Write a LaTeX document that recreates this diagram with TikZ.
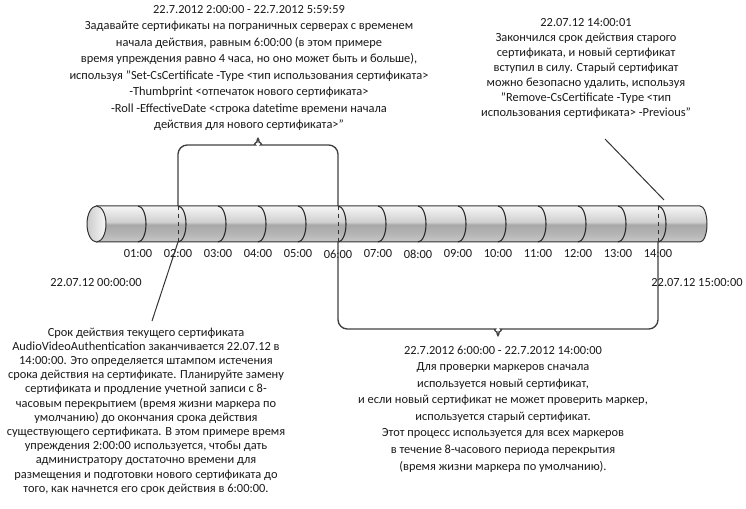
\documentclass[tikz,border=0pt]{standalone}
\usepackage{fontspec}
\setmainfont{Carlito}
\definecolor{cyla}{HTML}{F6F6F6}
\definecolor{cylb}{HTML}{D0D0D0}
\definecolor{cylc}{HTML}{A8A8A8}
\definecolor{cyld}{HTML}{B4B4B4}
\definecolor{cyle}{HTML}{C8C8C8}
\pgfdeclareverticalshading{cylshade}{100bp}{color(0bp)=(cyle); color(25bp)=(cyle); color(37bp)=(cyld); color(49bp)=(cylc); color(53bp)=(cylb); color(75bp)=(cyla); color(100bp)=(cyla)}
\begin{document}
\begin{tikzpicture}
  [x=0.75pt,y=-0.75pt,line width=0.75pt,
   every node/.style={inner sep=0pt,text=black!90},
   note/.style={align=center,font=\fontsize{9.3}{12.4}\selectfont},
   hour/.style={font=\fontsize{9.3}{11}\selectfont},
   cut/.style={draw=black!85,line width=0.8pt},
   brace/.style={draw=black!75,line width=1pt,rounded corners=7pt}]
  \useasboundingbox (0,0) rectangle (746,509);
  \shade[shading=cylshade,draw=black!80] (96.5,206) -- (700,206)
     arc[start angle=-90,end angle=90,x radius=7,y radius=18] -- (96.5,242) -- cycle;
  \shade[left color=black!20,right color=black!3,draw=black!80] (96.5,224) ellipse [x radius=9.5,y radius=18];
  \foreach \k in {1,...,14}{
    \pgfmathtruncatemacro\x{98+40*\k}
    \coordinate (t\k) at (\x,206);
    \coordinate (b\k) at (\x,242);
    \draw[cut] (t\k) arc[start angle=-90,end angle=90,x radius=8,y radius=18];
    \node[hour] (l\k) at (\x,254) {\ifnum\k<10 0\fi\k:00};
  }
  \foreach \k in {2,6,14}
    \draw[dashed,black!80] (t\k) -- (b\k);

  \draw[brace] (t2) -- (178,145) -- (246,145) .. controls (253,145) and (257,141) .. (258,133)
     .. controls (259,141) and (263,145) .. (270,145) -- (338,145) -- (t6);
  \draw[brace] (b6) -- (338,329) -- (486,329) .. controls (493,329) and (497,333) .. (498,341)
     .. controls (499,333) and (503,329) .. (510,329) -- (658,329) -- (b14);

  \coordinate (lc) at (152,321);
  \coordinate (rc) at (605,139);
  \coordinate (rt) at (664,200);
  \draw[black!80] (b2) -- (lc);
  \draw[black!80] (rc) -- (rt);

  \node[hour] (start) at (96,283) {22.07.12 00:00:00};
  \node[hour] (end) at (697,283) {22.07.12 15:00:00};

  \node[note] (topnote) at (249,68) {22.7.2012 2:00:00 - 22.7.2012 5:59:59\\
    Задавайте сертификаты на пограничных серверах с временем\\
    начала действия, равным 6:00:00 (в этом примере\\
    время упреждения равно 4 часа, но оно может быть и больше),\\
    используя "Set-CsCertificate -Type <тип использования сертификата>\\
    -Thumbprint <отпечаток нового сертификата>\\
    -Roll -EffectiveDate <строка datetime времени начала\\
    действия для нового сертификата>"};
  \node[note,font=\fontsize{9.3}{11.25}\selectfont] (rightnote) at (586,68) {22.07.12 14:00:01\\
    Закончился срок действия старого\\
    сертификата, и новый сертификат\\
    вступил в силу. Старый сертификат\\
    можно безопасно удалить, используя\\
    "Remove-CsCertificate -Type <тип\\
    использования сертификата> -Previous"};
  \node[note,font=\fontsize{9.3}{10.65}\selectfont] (leftnote) at (146,411) {Срок действия текущего сертификата\\
    AudioVideoAuthentication заканчивается 22.07.12 в\\
    14:00:00. Это определяется штампом истечения\\
    срока действия на сертификате. Планируйте замену\\
    сертификата и продление учетной записи с 8-\\
    часовым перекрытием (время жизни маркера по\\
    умолчанию) до окончания срока действия\\
    существующего сертификата. В этом примере время\\
    упреждения 2:00:00 используется, чтобы дать\\
    администратору достаточно времени для\\
    размещения и подготовки нового сертификата до\\
    того, как начнется его срок действия в 6:00:00.};
  \node[note] (midnote) at (503,409) {22.7.2012 6:00:00 - 22.7.2012 14:00:00\\
    Для проверки маркеров сначала\\
    используется новый сертификат,\\
    и если новый сертификат не может проверить маркер,\\
    используется старый сертификат.\\
    Этот процесс используется для всех маркеров\\
    в течение 8-часового периода перекрытия\\
    (время жизни маркера по умолчанию).};
\end{tikzpicture}
\end{document}
